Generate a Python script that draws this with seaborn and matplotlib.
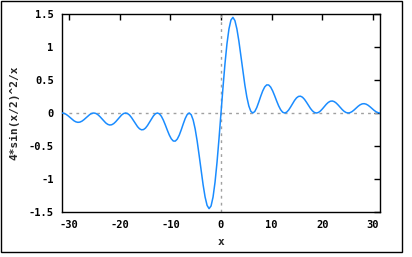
import matplotlib
matplotlib.use("Agg")
import matplotlib.pyplot as plt
import matplotlib.patches as mpatches
import seaborn as sns
import pandas as pd

# samples on the grid of multiples of pi/4
x_vals = [-31.416, -30.631, -29.845, -29.060, -28.274, -27.489, -26.704, -25.918, -25.133, -24.347,
          -23.562, -22.777, -21.991, -21.206, -20.420, -19.635, -18.850, -18.064, -17.279, -16.493,
          -15.708, -14.923, -14.137, -13.352, -12.566, -11.781, -10.996, -10.210, -9.425, -8.639,
          -7.854, -7.069, -6.283, -5.498, -4.712, -3.927, -3.142, -2.356, -1.571, -0.785,
          0.0,
          0.785, 1.571, 2.356, 3.142, 3.927, 4.712, 5.498, 6.283, 7.069, 7.854,
          8.639, 9.425, 10.210, 10.996, 11.781, 12.566, 13.352, 14.137, 14.923, 15.708,
          16.493, 17.279, 18.064, 18.850, 19.635, 20.420, 21.206, 21.991, 22.777, 23.562,
          24.347, 25.133, 25.918, 26.704, 27.489, 28.274, 29.060, 29.845, 30.631, 31.416]

y_vals = [0.0, -0.0191, -0.0670, -0.1175, -0.1415, -0.1242, -0.0749, -0.0226, 0.0, -0.0241,
          -0.0849, -0.1499, -0.1819, -0.1610, -0.0979, -0.0298, 0.0, -0.0324, -0.1157, -0.2070,
          -0.2546, -0.2288, -0.1415, -0.0439, 0.0, -0.0497, -0.1819, -0.3344, -0.4244, -0.3952,
          -0.2546, -0.0829, 0.0, -0.1065, -0.4244, -0.8694, -1.2732, -1.4490, -1.2732, -0.7458,
          0.0,
          0.7458, 1.2732, 1.4490, 1.2732, 0.8694, 0.4244, 0.1065, 0.0, 0.0829, 0.2546,
          0.3952, 0.4244, 0.3344, 0.1819, 0.0497, 0.0, 0.0439, 0.1415, 0.2288, 0.2546,
          0.2070, 0.1157, 0.0324, 0.0, 0.0298, 0.0979, 0.1610, 0.1819, 0.1499, 0.0849,
          0.0241, 0.0, 0.0226, 0.0749, 0.1242, 0.1415, 0.1175, 0.0670, 0.0191, 0.0]

# in-between samples (odd multiples of pi/8)
x_mid = [-31.023, -30.238, -29.452, -28.667, -27.882, -27.096, -26.311, -25.525, -24.740, -23.955,
         -23.169, -22.384, -21.598, -20.813, -20.028, -19.242, -18.457, -17.671, -16.886, -16.101,
         -15.315, -14.530, -13.744, -12.959, -12.174, -11.388, -10.603, -9.817, -9.032, -8.247,
         -7.461, -6.676, -5.890, -5.105, -4.320, -3.534, -2.749, -1.963, -1.178, -0.393,
         0.393, 1.178, 1.963, 2.749, 3.534, 4.320, 5.105, 5.890, 6.676, 7.461,
         8.247, 9.032, 9.817, 10.603, 11.388, 12.174, 12.959, 13.744, 14.530, 15.315,
         16.101, 16.886, 17.671, 18.457, 19.242, 20.028, 20.813, 21.598, 22.384, 23.169,
         23.955, 24.740, 25.525, 26.311, 27.096, 27.882, 28.667, 29.452, 30.238, 31.023]

y_mid = [-0.0049, -0.0408, -0.0939, -0.1342, -0.1380, -0.1021, -0.0469, -0.0060, -0.0062, -0.0515,
         -0.1194, -0.1719, -0.1781, -0.1329, -0.0616, -0.0079, -0.0082, -0.0699, -0.1638, -0.2390,
         -0.2512, -0.1903, -0.0898, -0.0117, -0.0125, -0.1084, -0.2608, -0.3919, -0.4260, -0.3353,
         -0.1655, -0.0228, -0.0258, -0.2418, -0.6402, -1.0887, -1.3997, -1.4084, -1.0480, -0.3877,
         0.3877, 1.0480, 1.4084, 1.3997, 1.0887, 0.6402, 0.2418, 0.0258, 0.0228, 0.1655,
         0.3353, 0.4260, 0.3919, 0.2608, 0.1084, 0.0125, 0.0117, 0.0898, 0.1903, 0.2512,
         0.2390, 0.1638, 0.0699, 0.0082, 0.0079, 0.0616, 0.1329, 0.1781, 0.1719, 0.1194,
         0.0515, 0.0062, 0.0060, 0.0469, 0.1021, 0.1380, 0.1342, 0.0939, 0.0408, 0.0049]

x_ticks = [-30, -20, -10, 0, 10, 20, 30]
y_ticks = [-1.5, -1, -0.5, 0, 0.5, 1, 1.5]
y_tick_labels = ["-1.5", "-1", "-0.5", "0", "0.5", "1", "1.5"]
x_label = "x"
y_label = "4*sin(x/2)^2/x"

df = pd.concat([pd.DataFrame({"x": x_vals, "y": y_vals}),
                pd.DataFrame({"x": x_mid, "y": y_mid})]).sort_values("x").reset_index(drop=True)

sns.set_style("white")
plt.rcParams["font.family"] = ["DejaVu Sans Mono"]
plt.rcParams["font.weight"] = "bold"

fig = plt.figure(figsize=(4.12, 2.57), dpi=100)
ax = fig.add_axes([62 / 412, 1 - 212 / 257, 318 / 412, 198 / 257])

ax.axhline(0, color="#a0a0a0", lw=1, ls=(0, (2, 3)), zorder=1)
ax.axvline(0, color="#a0a0a0", lw=1, ls=(0, (2, 3)), zorder=1)

sns.lineplot(data=df, x="x", y="y", ax=ax, color="#1a8cff", lw=1.1, zorder=3,
             sort=True, estimator=None)

ax.set_xlim(-31.416, 31.416)
ax.set_ylim(-1.5, 1.5)
ax.set_xticks(x_ticks)
ax.set_xticklabels([str(t) for t in x_ticks])
ax.set_yticks(y_ticks)
ax.set_yticklabels(y_tick_labels)
ax.tick_params(direction="in", length=4, width=1, top=True, right=True,
               labelsize=7.5, pad=6, colors="black")
for lab in ax.get_xticklabels() + ax.get_yticklabels():
    lab.set_fontweight("bold")
for s in ax.spines.values():
    s.set_visible(True)
    s.set_color("black")
    s.set_linewidth(1)

ax.set_xlabel(x_label, fontsize=8, fontweight="bold", labelpad=5)
ax.set_ylabel(y_label, fontsize=8, fontweight="bold", labelpad=7)

frame = mpatches.Rectangle((0.5 / 412, 5.5 / 257), 401 / 412, 251 / 257,
                           transform=fig.transFigure, fill=False, edgecolor="black", lw=1)
fig.patches.append(frame)

fig.savefig("out.png", dpi=100, facecolor="white")
